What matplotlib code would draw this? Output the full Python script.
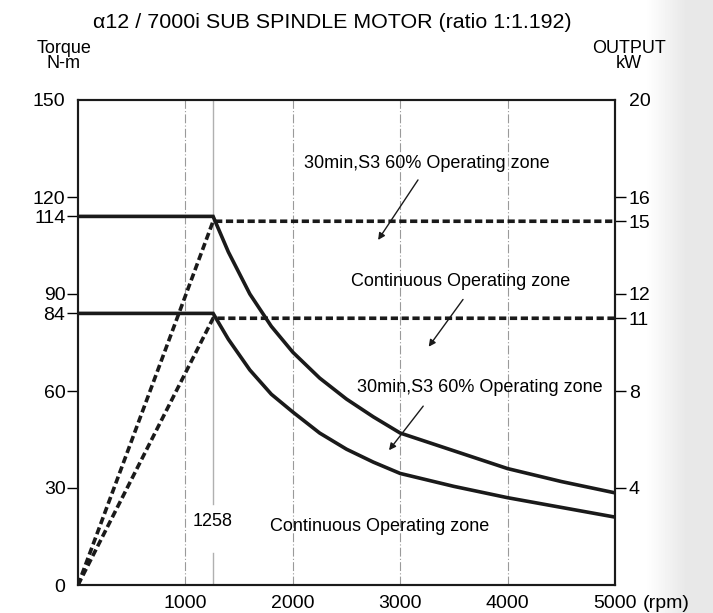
import matplotlib
matplotlib.use("Agg")
import matplotlib.pyplot as plt
import numpy as np

plt.rcParams['font.family'] = ['Liberation Sans', 'DejaVu Sans']

# Data
base_speed = 1258
s3_torque = 114
cont_torque = 84
s3_output_kw = 15
cont_output_kw = 11

s3_rpm = [1258, 1400, 1600, 1800, 2000, 2250, 2500, 2750, 3000, 3500, 4000, 4500, 5000]
s3_curve = [114, 103, 90, 80, 72, 64, 57.5, 52, 47, 41.5, 36, 32, 28.5]
cont_rpm = [1258, 1400, 1600, 1800, 2000, 2250, 2500, 2750, 3000, 3500, 4000, 4500, 5000]
cont_curve = [84, 76, 66.5, 59, 53.5, 47, 42, 38, 34.5, 30.5, 27, 24, 21]

x_ticks = [1000, 2000, 3000, 4000, 5000]
x_tick_labels = ['1000', '2000', '3000', '4000', '5000']
y_ticks = [0, 30, 60, 84, 90, 114, 120, 150]
kw_ticks = [4, 8, 11, 12, 15, 16, 20]

fig = plt.figure(figsize=(7.13, 6.13), dpi=100)

# right-edge grey gradient background
bg = fig.add_axes([0, 0, 1, 1], zorder=-10)
xs = np.arange(713)
row = np.where(xs < 645, 1.0, 1.0 - 0.09 * np.clip((xs - 645) / 40, 0, 1))
grad = np.vstack([row, row])
bg.imshow(grad, cmap='gray', vmin=0, vmax=1, aspect='auto', extent=[0, 1, 0, 1])
bg.axis('off')

ax = fig.add_axes([78/713, 1-585/613, (615-78)/713, (585-100)/613])
ax.set_xlim(0, 5000)
ax.set_ylim(0, 150)

kw_to_torque = 150 / 20.0

# grid lines
for xv in [1000, 2000, 3000, 4000]:
    ax.axvline(xv, color='#9a9a9a', lw=0.8, ls=(0, (8, 2, 1, 2)), zorder=1)
ax.plot([base_speed, base_speed], [0, 10], color='#b0b0b0', lw=1.0, zorder=1)
ax.plot([base_speed, base_speed], [25, 150], color='#b0b0b0', lw=1.0, zorder=1)

# solid torque curves
ax.plot([0] + s3_rpm, [s3_torque] + s3_curve, color='#1a1a1a', lw=2.6, zorder=3,
        solid_joinstyle='miter')
ax.plot([0] + cont_rpm, [cont_torque] + cont_curve, color='#1a1a1a', lw=2.6, zorder=3,
        solid_joinstyle='miter')

# dashed output curves
dash = (0, (2.0, 1.0))
s3_kw_t = s3_output_kw * kw_to_torque
cont_kw_t = cont_output_kw * kw_to_torque
ax.plot([0, base_speed, 5000], [0, s3_kw_t, s3_kw_t],
        color='#1a1a1a', lw=2.6, ls=dash, zorder=3)
ax.plot([0, base_speed, 5000], [0, cont_kw_t, cont_kw_t],
        color='#1a1a1a', lw=2.6, ls=dash, zorder=3)

ax.set_xticks(x_ticks)
ax.set_xticklabels(x_tick_labels, fontsize=14)
ax.tick_params(axis='x', length=0, pad=7)
ax.set_yticks(y_ticks)
ax.set_yticklabels([str(v) for v in y_ticks], fontsize=14)
ax.tick_params(axis='y', length=8, width=1, direction='out', pad=1)
ax.annotate('(rpm)', xy=(1, 0), xycoords='axes fraction', xytext=(20, -7),
            textcoords='offset points', ha='left', va='top', fontsize=14)

ax2 = ax.twinx()
ax2.set_ylim(0, 20)
ax2.set_yticks(kw_ticks)
ax2.set_yticklabels([str(v) for v in kw_ticks], fontsize=14)
ax2.tick_params(axis='y', length=8, width=1, direction='out', pad=2)

for i, t in enumerate(ax.yaxis.get_major_ticks()):
    if i < len(y_ticks) and y_ticks[i] in (0, 150):
        t.tick1line.set_visible(False)
for i, t in enumerate(ax2.yaxis.get_major_ticks()):
    if i < len(kw_ticks) and kw_ticks[i] == 20:
        t.tick2line.set_visible(False)

for a in (ax, ax2):
    for s in a.spines.values():
        s.set_linewidth(1.5)
        s.set_color('#1a1a1a')

# annotations
fs = 13
arrowprops = dict(arrowstyle='-|>', color='#1a1a1a', lw=1.0, mutation_scale=10)
ax.text(3250, 130.5, '30min,S3 60% Operating zone', ha='center', va='center', fontsize=fs)
ax.annotate('', xy=(2780, 106), xytext=(3180, 126), arrowprops=arrowprops)
ax.text(3560, 94, 'Continuous Operating zone', ha='center', va='center', fontsize=fs)
ax.annotate('', xy=(3250, 73), xytext=(3600, 89), arrowprops=arrowprops)
ax.text(3740, 61, '30min,S3 60% Operating zone', ha='center', va='center', fontsize=fs)
ax.annotate('', xy=(2880, 41), xytext=(3230, 56), arrowprops=arrowprops)
ax.text(2810, 18, 'Continuous Operating zone', ha='center', va='center', fontsize=fs)
ax.text(base_speed, 19.5, '1258', ha='center', va='center', fontsize=fs)

fig.text(332/713, 1-22/613, 'α12 / 7000i SUB SPINDLE MOTOR (ratio 1:1.192)', ha='center', va='center', fontsize=15.4)
fig.text(64/713, 1-56/613, 'Torque\nN-m', ha='center', va='center', fontsize=13, linespacing=0.8)
fig.text(629/713, 1-56/613, 'OUTPUT\nkW', ha='center', va='center', fontsize=13, linespacing=0.8)

fig.savefig('out.png', dpi=100)
